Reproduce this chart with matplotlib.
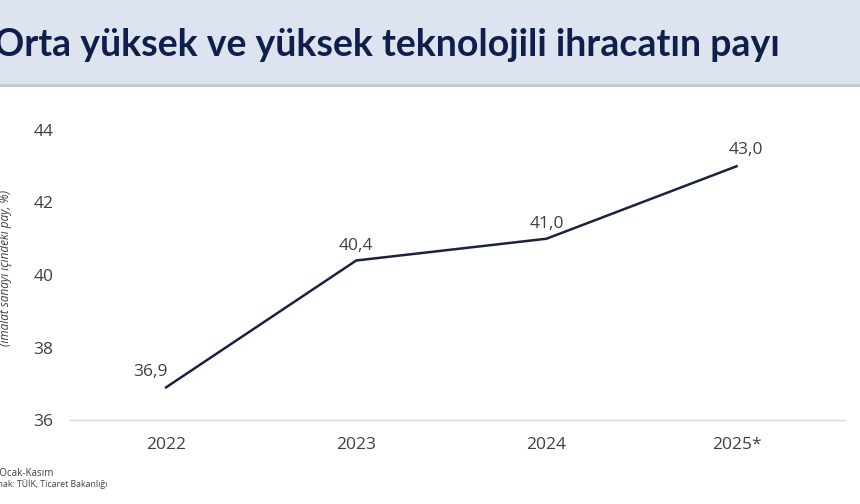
import matplotlib
matplotlib.use("Agg")
from matplotlib import pyplot as plt
from matplotlib.patches import Rectangle

years = ["2022", "2023", "2024", "2025*"]
share = [36.9, 40.4, 41.0, 43.0]
value_labels = ["36,9", "40,4", "41,0", "43,0"]
y_ticks = [36, 38, 40, 42, 44]

title = "Orta yüksek ve yüksek teknolojili ihracatın payı"
y_label = "(imalat sanayi içindeki pay, %)"
note = "*Ocak-Kasım"
source = "Kaynak: TÜİK, Ticaret Bakanlığı"

plt.rcParams["font.family"] = ["Open Sans", "DejaVu Sans"]

W, H = 860, 504
fig = plt.figure(figsize=(W / 100, H / 100), dpi=100)
fig.patch.set_facecolor("white")

# header band with a thin shadow under it
fig.add_artist(Rectangle((0, 1 - 84 / H), 1, 84 / H, transform=fig.transFigure,
                         facecolor="#dde4ef", edgecolor="none", zorder=0))
fig.add_artist(Rectangle((0, 1 - 87 / H), 1, 3 / H, transform=fig.transFigure,
                         facecolor="#c5cbd4", edgecolor="none", zorder=0))
fig.text(-6 / W, 1 - 56 / H, title, fontsize=27, fontweight="bold",
         color="#0f1f4b", va="baseline", ha="left", family=["Lato", "DejaVu Sans"])

ax = fig.add_axes([70 / W, (H - 420) / H, 775 / W, 290 / H])
x = list(range(len(years)))
ax.plot(x, share, color="#1a2440", linewidth=1.8)

offsets = [(1, 5, "right"), (0, 5, "center"), (0, 5, "center"), (7, 6, "center")]
for xi, yi, lab, (dx, dy, ha) in zip(x, share, value_labels, offsets):
    ax.annotate(lab, (xi, yi), xytext=(dx, dy), textcoords="offset points",
                ha=ha, va="bottom", fontsize=12.5, color="#404040")

ax.set_xlim(-0.505, 3.57)
ax.set_ylim(36, 44)
ax.set_xticks(x)
ax.set_xticklabels(years)
ax.set_yticks(y_ticks)
ax.tick_params(length=0, labelsize=12.5, labelcolor="#404040")
ax.tick_params(axis="x", pad=12)
ax.tick_params(axis="y", pad=12)
for side in ["top", "right", "left"]:
    ax.spines[side].set_visible(False)
ax.spines["bottom"].set_color("#d9d9d9")
ax.spines["bottom"].set_linewidth(1)
ax.set_facecolor("none")

fig.text(6 / W, 1 - 268 / H, y_label, rotation=90, fontsize=8.5, style="italic",
         color="#404040", ha="center", va="center")
fig.text(-5 / W, 1 - 473 / H, note, fontsize=7, color="#404040", va="center")
fig.text(-17 / W, 1 - 484 / H, source, fontsize=6.3, color="#404040", va="center")

fig.savefig("out.png", dpi=100)
